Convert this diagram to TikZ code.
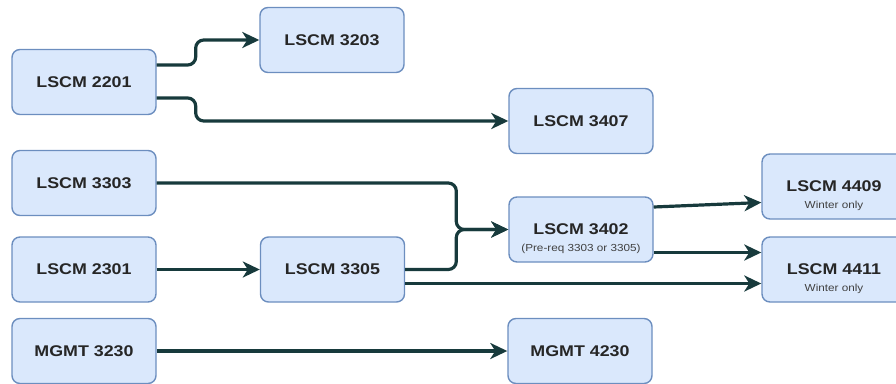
\documentclass[tikz,border=0pt]{standalone}
\usepackage{fontspec}
\usepackage{tikz}
\usetikzlibrary{arrows.meta}
\newfontfamily\boxfont[FakeStretch=1.15]{Liberation Sans}
\definecolor{boxfill}{HTML}{DAE8FC}
\definecolor{boxline}{HTML}{6C8EBF}
\definecolor{linkcol}{RGB}{23,58,60}

\begin{document}
\begin{tikzpicture}[x=1pt, y=-1pt,
  course/.style={draw=boxline, fill=boxfill, line width=1.4pt, rounded corners=8pt,
    minimum width=144pt, minimum height=65pt, text=black!85,
    font=\boxfont\bfseries\fontsize{15.5}{18}\selectfont},
  sublbl/.style={anchor=south, yshift=6pt, text=black!75, font=\boxfont\fontsize{10.2}{12}\selectfont},
  link/.style={draw=linkcol, line width=3.2pt, rounded corners=8pt,
    -{Stealth[length=17pt, width=16pt, inset=5pt]}}]
\useasboundingbox (0,0) rectangle (896,383);
% courses
\node [course] (a2201) at (84, 82) {LSCM 2201};
\node [course] (a3203) at (332, 40) {LSCM 3203};
\node [course] (a3407) at (581, 121) {LSCM 3407};
\node [course] (a3303) at (84, 183) {LSCM 3303};
\node [course] (a2301) at (84, 269.5) {LSCM 2301};
\node [course] (a3305) at (332.5, 269.5) {LSCM 3305};
\node [course, label={[sublbl]south:(Pre-req 3303 or 3305)}] (a3402) at (581, 229.5) {LSCM 3402};
\node [course, label={[sublbl]south:Winter only}] (a4409) at (834, 186.5) {LSCM 4409};
\node [course, label={[sublbl]south:Winter only}] (a4411) at (834, 269.5) {LSCM 4411};
\node [course] (m3230) at (84, 351) {MGMT 3230};
\node [course] (m4230) at (580, 351) {MGMT 4230};
% links
\draw [link] ([yshift=17pt]a2201.east) -- ++(39pt,0pt) |- (a3203.west);
\draw [link] ([yshift=-16pt]a2201.east) -- ++(39pt,0pt) |- (a3407.west);
\draw [link] (a3303.east) -| ([xshift=-52pt]a3402.west) -- (a3402.west);
\draw [link] (a3305.east) -| ([xshift=-52pt]a3402.west) -- (a3402.west);
\draw [link] (a2301) -- (a3305);
\draw [link] ([yshift=22.5pt]a3402.east) -- ([yshift=-16pt]a4409.west);
\draw [link] ([yshift=-23pt]a3402.east) -- ([yshift=17pt]a4411.west);
\draw [link] ([yshift=-14pt]a3305.east) -- ([yshift=-14pt]a4411.west);
\draw [link] (m3230) -- (m4230);
\end{tikzpicture}
\end{document}
